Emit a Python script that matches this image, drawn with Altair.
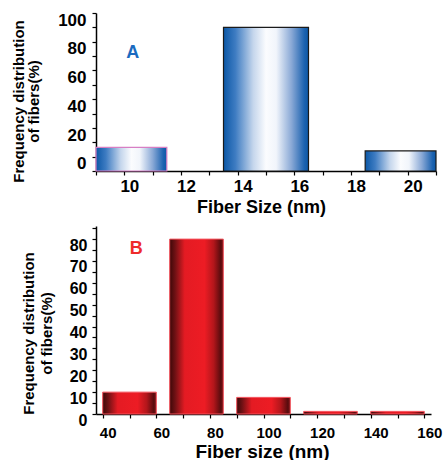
import altair as alt
import pandas as pd

FONT = "Liberation Sans"

# ---------------- Panel A data ----------------
a_start = [9, 13.5, 18.5]
a_end = [11.5, 16.5, 21]
a_freq = [11.5, 95, 9]
a_edge = ["#d77fc4", "#1a1a1a", "#1a1a1a"]
a_xticks = [9, 10, 11, 12, 13, 14, 15, 16, 17, 18, 19, 20, 21]
a_yticks = [-5, 5, 15, 25, 35, 45, 55, 65, 75, 85, 95, 105]
a_label = ["A"]
a_label_x = [10.3]
a_label_y = [77.5]

# ---------------- Panel B data ----------------
b_start = [40, 65, 90, 115, 140]
b_end = [60, 85, 110, 135, 160]
b_freq = [10, 80, 7.6, 1.2, 1.2]
b_xticks = [40, 50, 60, 70, 80, 90, 100, 110, 120, 130, 140, 150, 160]
b_yticks = [0, 5, 10, 15, 20, 25, 30, 35, 40, 45, 50, 55, 60, 65, 70, 75, 80, 85]
b_label = ["B"]
b_label_x = [52.5]
b_label_y = [75.5]

dfA = pd.DataFrame({"start": a_start, "end": a_end, "freq": a_freq, "edge": a_edge})
dfB = pd.DataFrame({"start": b_start, "end": b_end, "freq": b_freq})
labA = pd.DataFrame({"lx": a_label_x, "ly": a_label_y, "t": a_label})
labB = pd.DataFrame({"lx": b_label_x, "ly": b_label_y, "t": b_label})

blue = alt.Gradient(
    gradient="linear", x1=0, x2=1, y1=0, y2=0,
    stops=[
        alt.GradientStop(color="#0b57a6", offset=0),
        alt.GradientStop(color="#3e7cc2", offset=0.14),
        alt.GradientStop(color="#c5d6ec", offset=0.35),
        alt.GradientStop(color="#fbfcfe", offset=0.5),
        alt.GradientStop(color="#f1f5fb", offset=0.62),
        alt.GradientStop(color="#8aa9d6", offset=0.8),
        alt.GradientStop(color="#1d63b0", offset=0.95),
        alt.GradientStop(color="#0b57a6", offset=1),
    ],
)
red = alt.Gradient(
    gradient="linear", x1=0, x2=1, y1=0, y2=0,
    stops=[
        alt.GradientStop(color="#3d0808", offset=0),
        alt.GradientStop(color="#6e1114", offset=0.1),
        alt.GradientStop(color="#e41b23", offset=0.28),
        alt.GradientStop(color="#ed1c24", offset=0.65),
        alt.GradientStop(color="#b3161b", offset=0.82),
        alt.GradientStop(color="#5a0c0e", offset=0.95),
        alt.GradientStop(color="#7a1215", offset=1),
    ],
)

common_axis = dict(
    grid=False, ticks=True, domainColor="black", domainWidth=1.5, tickColor="black",
    tickWidth=1.2, tickSize=4, labelColor="black", labelFont=FONT,
    labelFontWeight="bold", labelFlush=False, labelOverlap=False, labelBound=False,
    titleFont=FONT, titleFontWeight="bold", titleColor="black",
)

# ---------------- Panel A ----------------
scaleAx = alt.Scale(domain=[9, 21], nice=False, zero=False)
scaleAy = alt.Scale(domain=[-5, 105], nice=False, zero=False)
xA = alt.X(
    "start:Q", scale=scaleAx,
    axis=alt.Axis(
        values=a_xticks,
        labelExpr="datum.value % 2 == 0 ? datum.label : ''",
        labelOffset=5, labelPadding=3, labelFontSize=17,
        title="Fiber Size (nm)", titleFontSize=18,
        titleX=165, titleY=41, titleBaseline="alphabetic",
        **common_axis,
    ),
)
yA = alt.Y(
    "freq:Q", scale=scaleAy,
    axis=alt.Axis(
        values=a_yticks,
        labelExpr="(datum.value + 5) % 20 == 0 ? format(datum.value + 5, 'd') : ''",
        labelFontSize=alt.condition("(datum.value + 5) % 20 == 0", alt.value(17), alt.value(0)),
        labelOffset=-7.2, labelPadding=6,
        title=["Frequency distribution", "of fibers(%)"], titleFontSize=15,
        titleLineHeight=15, titleX=-70, titleY=88, titleBaseline="bottom",
        **common_axis,
    ),
)
barsA = alt.Chart(dfA).mark_bar(fill=blue, strokeWidth=1.2).encode(
    x=xA, x2="end:Q", y=yA, y2=alt.datum(-5),
    stroke=alt.Stroke("edge:N", scale=None),
)
textA = alt.Chart(labA).mark_text(
    font=FONT, fontSize=18, fontWeight="bold", color="#1a6bc0"
).encode(
    x=alt.X("lx:Q", axis=None),
    y=alt.Y("ly:Q", axis=None),
    text="t:N",
)
chartA = (
    alt.layer(barsA, textA)
    .resolve_axis(x="independent", y="independent")
    .properties(width=340, height=158)
)

# ---------------- Panel B ----------------
scaleBx = alt.Scale(domain=[37.5, 162.5], nice=False, zero=False)
scaleBy = alt.Scale(domain=[0, 86], nice=False, zero=False)
xB = alt.X(
    "start:Q", scale=scaleBx,
    axis=alt.Axis(
        values=b_xticks,
        labelExpr="datum.value % 20 == 0 ? datum.label : ''",
        labelOffset=5, labelPadding=7, labelFontSize=15,
        title="Fiber size (nm)", titleFontSize=19,
        titleX=166, titleY=43, titleBaseline="alphabetic",
        **common_axis,
    ),
)
yB = alt.Y(
    "freq:Q", scale=scaleBy,
    axis=alt.Axis(
        values=b_yticks,
        labelExpr="datum.value % 10 == 0 ? datum.label : ''",
        labelFontSize=alt.condition("datum.value % 10 == 0", alt.value(16), alt.value(0)),
        labelOffset=6, labelPadding=5,
        title=["Frequency distribution", "of fibers(%)"], titleFontSize=15,
        titleLineHeight=18, titleX=-60, titleY=107, titleBaseline="bottom",
        **common_axis,
    ),
)
barsB = alt.Chart(dfB).mark_bar(fill=red, stroke="#f4505a", strokeWidth=1).encode(
    x=xB, x2="end:Q", y=yB, y2=alt.datum(0),
)
textB = alt.Chart(labB).mark_text(
    font=FONT, fontSize=18, fontWeight="bold", color="#ee2b2b"
).encode(
    x=alt.X("lx:Q", axis=None),
    y=alt.Y("ly:Q", axis=None),
    text="t:N",
)
chartB = (
    alt.layer(barsB, textB)
    .resolve_axis(x="independent", y="independent")
    .properties(width=335, height=188)
)

chart = (
    alt.vconcat(chartA, chartB, spacing=8)
    .properties(padding={"left": 10, "top": 5, "right": 0, "bottom": 0}, background="white")
    .configure_view(stroke="transparent")
)

chart.save("out.html", embed_options={"renderer": "svg", "actions": False})
